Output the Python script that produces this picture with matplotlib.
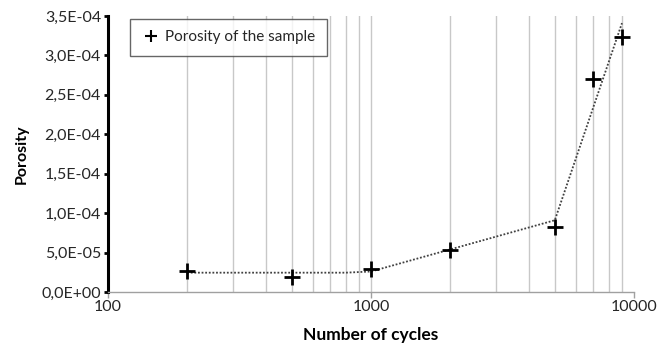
import numpy as np
import matplotlib
matplotlib.use('Agg')
import matplotlib.pyplot as plt
from matplotlib.ticker import FuncFormatter, FixedLocator

# measured points
cycles = [200, 500, 1000, 2000, 5000, 7000, 9000]
porosity = [2.7e-5, 1.86e-5, 2.88e-5, 5.3e-5, 8.2e-5, 2.70e-4, 3.23e-4]

# dotted trend line
trend_x = [200, 800, 1000, 5000, 9000]
trend_y = [2.45e-5, 2.45e-5, 2.6e-5, 9.1e-5, 3.41e-4]

x_ticks = [100, 1000, 10000]
y_ticks = [0, 5e-5, 1e-4, 1.5e-4, 2e-4, 2.5e-4, 3e-4, 3.5e-4]

plt.rcParams['font.family'] = ['Lato', 'DejaVu Sans']

fig = plt.figure(figsize=(6.66, 3.45), dpi=100)
ax = fig.add_axes([108/666, 53/345, 526/666, 276/345])

ax.set_xscale('log')
ax.set_xlim(100, 10000)
ax.set_ylim(0, 3.5e-4)

grid_x = [m * d for d in (100, 1000) for m in range(2, 10)] + [1000]
for gx in grid_x:
    ax.axvline(gx, color='#c8c8c8', lw=1, zorder=0)

ax.plot(trend_x, trend_y, ls=(0, (1, 1)), color='#404040', lw=1.3, zorder=2)
ax.plot(cycles, porosity, ls='none', marker='+', ms=12, mew=2,
        color='black', zorder=3, label='Porosity of the sample')

ax.xaxis.set_major_locator(FixedLocator(x_ticks))
ax.xaxis.set_minor_locator(FixedLocator([]))
ax.xaxis.set_major_formatter(FuncFormatter(lambda v, p: f'{int(v)}'))
ax.set_yticks(y_ticks)
ax.yaxis.set_major_formatter(FuncFormatter(lambda v, p: f'{v:.1E}'.replace('.', ',')))

for s in ('top', 'right'):
    ax.spines[s].set_visible(False)
ax.spines['left'].set_linewidth(2.2)
ax.spines['left'].set_color('black')
ax.spines['bottom'].set_color('#a0a0a0')
ax.spines['bottom'].set_linewidth(1)
ax.tick_params(axis='y', length=3, width=2, color='black', labelsize=11.5, pad=2,
               labelcolor='#262626')
ax.tick_params(axis='x', length=4, width=1, color='#a0a0a0', labelsize=11.5, pad=2,
               labelcolor='#262626')

ax.set_xlabel('Number of cycles', fontsize=12.5, fontweight='bold', labelpad=9)
ax.set_ylabel('Porosity', fontsize=11.5, fontweight='bold', labelpad=9)

leg = ax.legend(loc='upper left', bbox_to_anchor=(22/526, 1 - 3/276), frameon=True,
                fancybox=False, edgecolor='#404040', fontsize=11,
                handlelength=1.2, handletextpad=0.35, borderpad=0.75,
                borderaxespad=0)
leg.get_frame().set_linewidth(1)
for t in leg.get_texts():
    t.set_color('#262626')
for h in leg.legend_handles:
    h.set_markersize(9)
    h.set_markeredgewidth(1.5)
leg.get_frame().set_width(199)

fig.savefig('out.png', dpi=100)
